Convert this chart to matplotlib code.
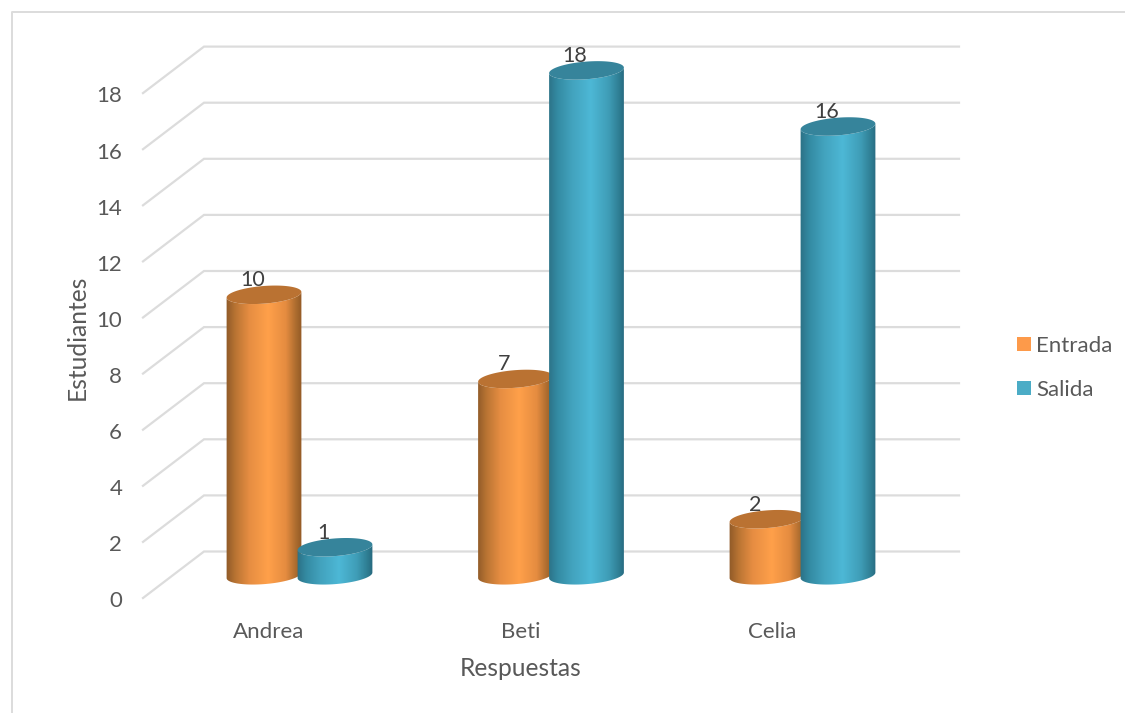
import numpy as np
import matplotlib
matplotlib.use("Agg")
import matplotlib.pyplot as plt
from matplotlib.colors import LinearSegmentedColormap
from matplotlib.patches import Patch, Polygon

categories = ["Andrea", "Beti", "Celia"]
entrada = [10, 7, 2]
salida = [1, 18, 16]
y_ticks = list(range(0, 20, 2))
W, H = 1125, 713
plt.rcParams['font.family'] = ['Lato', 'DejaVu Sans']

fig = plt.figure(figsize=(W / 100, H / 100), dpi=100, facecolor="white")
L, R, T, B = 143, 959, 48, 598
ax = fig.add_axes([L / W, 1 - B / H, (R - L) / W, (B - T) / H])
PX_Y = 28.05
PX_X = 251.5
x0 = (L - 269) / PX_X
ax.set_xlim(x0, x0 + (R - L) / PX_X)
ax.set_ylim(0, (B - T) / PX_Y)
ax.set_facecolor("none")
for s in ax.spines.values():
    s.set_visible(False)

GRID = "#dcdcdc"
xu, yu = 1 / PX_X, 1 / PX_Y
back_dx, back_dy = 61 * xu, 46.5 * yu
for v in y_ticks:
    ax.plot([x0, x0 + back_dx, x0 + (R - L) * xu], [v, v + back_dy, v + back_dy],
            color=GRID, lw=1.6, zorder=1, clip_on=False, solid_joinstyle="miter")

orange = LinearSegmentedColormap.from_list("o", [(0, "#8f5a28"), (0.12, "#b97433"), (0.3, "#e68d42"),
                                                 (0.55, "#ffa04a"), (0.78, "#e58c40"), (0.92, "#a96a2e"), (1, "#8f5724")])
teal = LinearSegmentedColormap.from_list("t", [(0, "#2b7186"), (0.12, "#348ba3"), (0.3, "#42a2bd"),
                                               (0.55, "#4db8d6"), (0.78, "#3f9db7"), (0.92, "#2e7d92"), (1, "#25647a")])
A, Bm, TH = 37.5, 8.8, np.radians(4.5)
BASE = 22.7 * yu


def ell(cx, cy, t):
    ex = A * np.cos(t) * np.cos(TH) - Bm * np.sin(t) * np.sin(TH)
    ey = A * np.cos(t) * np.sin(TH) + Bm * np.sin(t) * np.cos(TH)
    return np.column_stack([cx + ex * xu, cy + ey * yu])


def cylinder(cx, value, cmap, cap, z):
    low = BASE
    top = BASE + value
    lower = np.linspace(np.pi, 2 * np.pi, 60)
    body = np.vstack([ell(cx, low, lower), ell(cx, top, lower[::-1])])
    patch = Polygon(body, closed=True, transform=ax.transData, fc="none", ec="none")
    ax.add_patch(patch)
    grad = np.linspace(0, 1, 128).reshape(1, -1)
    im = ax.imshow(grad, cmap=cmap, aspect="auto", zorder=z, interpolation="bilinear",
                   extent=[cx - (A + 1) * xu, cx + (A + 1) * xu, low - 12 * yu, top + 12 * yu])
    im.set_clip_path(patch)
    ax.add_patch(Polygon(ell(cx, top, np.linspace(0, 2 * np.pi, 90)), closed=True, fc=cap, ec="none", zorder=z + 0.1))


off_e, off_s = -5 * xu, 66 * xu
for i, (e, s) in enumerate(zip(entrada, salida)):
    cylinder(i + off_e, e, orange, "#ba7232", 3 + i * 0.01)
    cylinder(i + off_s, s, teal, "#36849b", 4 + i * 0.01)
    for xc, v in ((i + off_e, e), (i + off_s, s)):
        ax.annotate(str(v), (xc, v + BASE), xytext=(-8.5, 10.5), textcoords="offset points",
                    ha="center", va="center", fontsize=15.5, color="#404040", zorder=6)

ax.set_xlim(x0, x0 + (R - L) / PX_X)
ax.set_ylim(0, (B - T) / PX_Y)
ax.set_xticks(range(len(categories)), categories)
ax.set_yticks(y_ticks)
ax.tick_params(axis="both", length=0, labelsize=16, labelcolor="#595959")
ax.tick_params(axis="y", pad=15)
ax.tick_params(axis="x", pad=17.5)
for lab in ax.get_yticklabels():
    lab.set_transform(lab.get_transform() + matplotlib.transforms.ScaledTranslation(0, -1 / 72, fig.dpi_scale_trans))
ax.set_xlabel("Respuestas", fontsize=17.7, color="#595959")
ax.set_ylabel("Estudiantes", fontsize=17.7, color="#595959")
ax.xaxis.set_label_coords((521 - L) / (R - L), -(669 - B) / (B - T), transform=ax.transAxes)
ax.xaxis.label.set_va("center")
ax.yaxis.set_label_coords((77 - L) / (R - L), (B - 337) / (B - T), transform=ax.transAxes)
ax.yaxis.label.set_va("center")

fig.add_artist(plt.Line2D([11.5 / W, 11.5 / W, 1], [0, 1 - 11.5 / H, 1 - 11.5 / H], color=GRID, lw=1.4,
                          transform=fig.transFigure))

handles = [Patch(fc="#fd9a4a", ec="none", label="Entrada"), Patch(fc="#4bacc6", ec="none", label="Salida")]
leg = fig.legend(handles=handles, loc="center left", bbox_to_anchor=(1010 / W, 1 - 368 / H), frameon=False,
                 fontsize=16, labelcolor="#595959", handlelength=0.63, handleheight=0.63, handletextpad=0.25,
                 labelspacing=1.08, borderpad=0, borderaxespad=0.3)

fig.savefig("out.png", dpi=100, facecolor="white")
